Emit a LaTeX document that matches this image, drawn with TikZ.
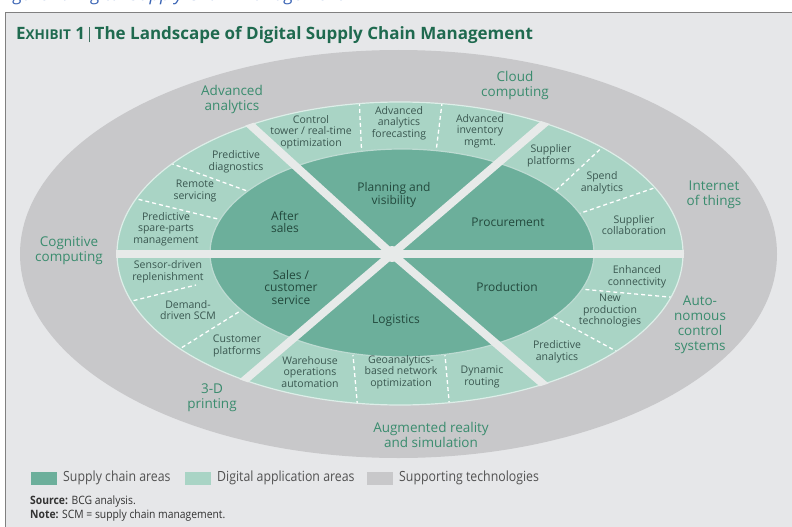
\documentclass[tikz,border=0pt]{standalone}
\usepackage{fontspec}
\setmainfont{Open Sans}
\newfontfamily\cond[FakeStretch=0.88]{Open Sans}
\newfontfamily\condn[FakeStretch=0.9]{Open Sans}
\definecolor{panel}{HTML}{E6E7E9}
\definecolor{outerc}{HTML}{C8C8CA}
\definecolor{midc}{HTML}{A9D4C5}
\definecolor{innc}{HTML}{6CAF9B}
\definecolor{spoke}{HTML}{E7EAE9}
\definecolor{txtout}{HTML}{3A8C6E}
\definecolor{txtmid}{HTML}{3A5750}
\definecolor{txtin}{HTML}{23493D}
\definecolor{titlec}{HTML}{1F6A4F}
\definecolor{bluecap}{HTML}{3A64B4}
\definecolor{notec}{HTML}{333333}
\tikzset{
  outl/.style={font=\fontsize{13.5}{15}\selectfont, text=txtout, align=center, inner sep=0pt},
  midl/.style={font=\fontsize{10.5}{11.5}\selectfont, text=txtmid, align=center, inner sep=0pt},
  innl/.style={font=\fontsize{12}{12.5}\selectfont, text=txtin, align=center, inner sep=0pt},
  dsh/.style={white, line width=1.3pt, dash pattern=on 4pt off 3pt},
  spk/.style={spoke, line width=8pt},
  legbox/.style={minimum width=26pt, minimum height=13pt, inner sep=0pt},
  legtxt/.style={font=\cond\fontsize{14}{16}\selectfont, text=notec!85, anchor=west, inner sep=0pt},
  notetxt/.style={anchor=base west, inner sep=0pt, text=notec, font=\condn\fontsize{11.5}{13}\selectfont},
}
\begin{document}
\begin{tikzpicture}[x=1pt,y=-1pt]
\useasboundingbox (0,0) rectangle (792,527);
% top clipped caption
\begin{scope}
\clip (0,0) rectangle (792,11);
\node[anchor=base west, inner sep=0pt, text=bluecap, font=\itshape\fontsize{18}{20}\selectfont] (cap) at (0,1) {Figure 1: Digital Supply Chain Management};
\end{scope}
% panel
\fill[panel] (5,12) rectangle (792,527);
\draw[gray, line width=1.2pt] (5.6,527) -- (5.6,12.6) -- (792,12.6);
% title
\node[anchor=base west, inner sep=0pt, text=titlec, font=\bfseries\fontsize{17}{20}\selectfont] (title) at (16,39.5)
 {E{\fontsize{13.5}{15}\selectfont XHIBIT} 1\hspace{4pt}{\color{titlec!70!gray}\rule[-3pt]{0.7pt}{16pt}}\hspace{5pt}The Landscape of Digital Supply Chain Management};
% ellipses
\fill[outerc] (398.5,254) ellipse [x radius=378.5pt, y radius=204pt];
\fill[midc] (400,253.5) ellipse [x radius=283pt, y radius=151.5pt];
\begin{scope}
\clip (400,253.5) ellipse [x radius=283pt, y radius=151.5pt];
\draw[dsh] (359,95) -- (362,160);
\draw[dsh] (443,95) -- (435,160);
\draw[dsh] (610,140) -- (550,196);
\draw[dsh] (660,186) -- (575,215);
\draw[dsh] (170,163) -- (250,192);
\draw[dsh] (125,196) -- (222,220);
\draw[dsh] (120,304) -- (196,285);
\draw[dsh] (170,355) -- (245,308);
\draw[dsh] (358,412) -- (353,355);
\draw[dsh] (450,412) -- (445,355);
\draw[dsh] (680,298) -- (580,289);
\draw[dsh] (625,356) -- (548,314);
\end{scope}
\draw[white!60!midc, line width=1.2pt] (400,253.5) ellipse [x radius=283pt, y radius=151.5pt];
\fill[innc] (402,253) ellipse [x radius=192pt, y radius=104pt];
\draw[white!55!innc, line width=1.2pt] (402,253) ellipse [x radius=192pt, y radius=104pt];
% spokes
\coordinate (c) at (392,254);
\begin{scope}
\clip (400,253.5) ellipse [x radius=284pt, y radius=152.5pt];
\draw[spk] (100,254) -- (700,254);
\draw[spk] (c) -- (100,-12);
\draw[spk] (c) -- (700,-10);
\draw[spk] (c) -- (100,504);
\draw[spk] (c) -- (700,519);
\fill[spoke] (c) circle (8pt);
\end{scope}
% outer labels
\node[outl] (l-aa) at (232,99) {Advanced\\analytics};
\node[outl] (l-cc) at (515,85) {Cloud\\computing};
\node[outl] (l-iot) at (714,195) {Internet\\of things};
\node[outl] (l-cog) at (69,251) {Cognitive\\computing};
\node[outl] (l-acs) at (700,325) {Auto-\\nomous\\control\\systems};
\node[outl] (l-3d) at (212,398) {3-D\\printing};
\node[outl] (l-ar) at (431,435) {Augmented reality\\and simulation};
% middle labels
\node[midl] (m1) at (311,132) {Control\\tower / real-time\\optimization};
\node[midl] (m2) at (399,123) {Advanced\\analytics\\forecasting};
\node[midl] (m3) at (480,131) {Advanced\\inventory\\mgmt.};
\node[midl] (m4) at (551,156) {Supplier\\platforms};
\node[midl] (m5) at (602,183) {Spend\\analytics};
\node[midl] (m6) at (634,225) {Supplier\\collaboration};
\node[midl] (m7) at (236,162) {Predictive\\diagnostics};
\node[midl] (m8) at (195,191) {Remote\\servicing};
\node[midl] (m9) at (166,229) {Predictive\\spare-parts\\management};
\node[midl] (m10) at (168,272) {Sensor-driven\\replenishment};
\node[midl] (m11) at (188,310) {Demand-\\driven SCM};
\node[midl] (m12) at (237,346) {Customer\\platforms};
\node[midl] (m13) at (310,372) {Warehouse\\operations\\automation};
\node[midl] (m14) at (401,372) {Geoanalytics-\\based network\\optimization};
\node[midl] (m15) at (482,377) {Dynamic\\routing};
\node[midl] (m16) at (637,277) {Enhanced\\connectivity};
\node[midl] (m17) at (610,311) {New\\production\\technologies};
\node[midl] (m18) at (557,352) {Predictive\\analytics};
% inner labels
\node[innl] (i1) at (394,195) {Planning and\\visibility};
\node[innl] (i2) at (508,222) {Procurement};
\node[innl] (i3) at (285,222) {After\\sales};
\node[innl] (i4) at (291,287) {Sales /\\customer\\service};
\node[innl] (i5) at (396,321) {Logistics};
\node[innl] (i6) at (507,287) {Production};
% legend
\node[legbox, fill=innc] (lb1) at (44,478) {};
\node[legtxt] (lt1) at (63,478) {Supply chain areas};
\node[legbox, fill=midc] (lb2) at (198,478) {};
\node[legtxt] (lt2) at (217,478) {Digital application areas};
\node[legbox, fill=outerc] (lb3) at (380,478) {};
\node[legtxt] (lt3) at (399,478) {Supporting technologies};
\node[notetxt] (src) at (30,504) {\textbf{Source:} BCG analysis.};
\node[notetxt] (note) at (30,518) {\textbf{Note:} SCM = supply chain management.};
\end{tikzpicture}
\end{document}
